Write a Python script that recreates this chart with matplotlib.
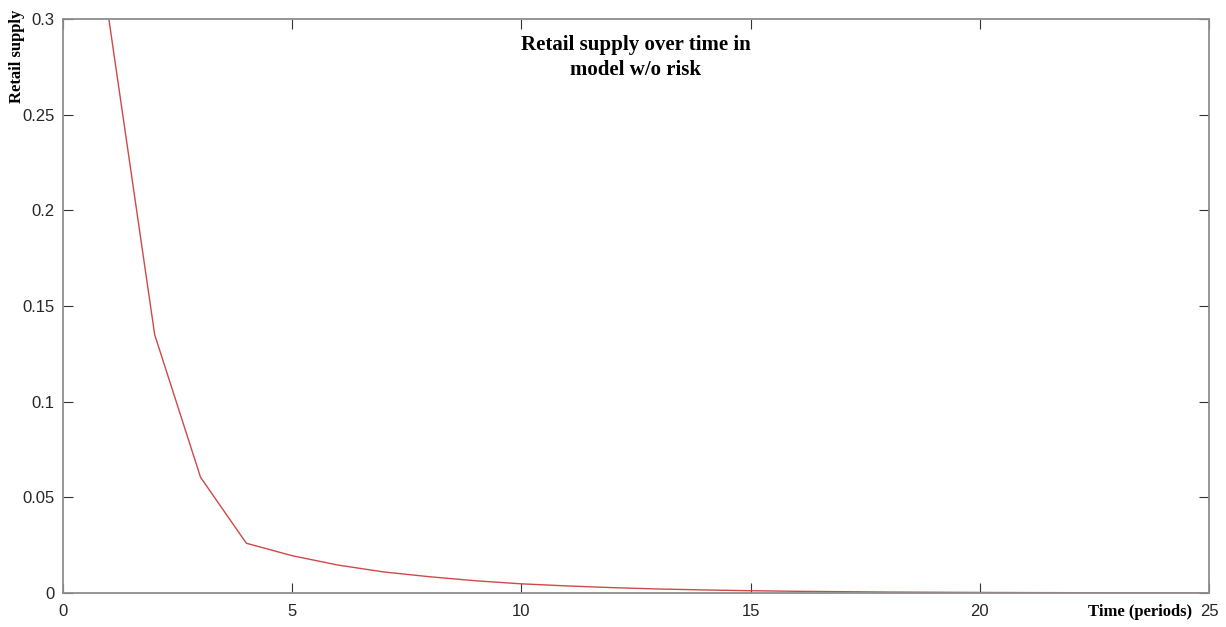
import matplotlib

matplotlib.use("Agg")
import matplotlib.pyplot as plt  # noqa: E402

# Retail supply per period
periods = list(range(1, 26))
supply = [0.300, 0.135, 0.0605, 0.026, 0.0195, 0.0146, 0.0110, 0.0085,
          0.0064, 0.0048, 0.0037, 0.0028, 0.0021, 0.0016, 0.0012, 0.0009,
          0.0007, 0.0005, 0.0004, 0.0003, 0.00022, 0.00017, 0.00013,
          0.0001, 0.00008]

x_ticks = [0, 5, 10, 15, 20, 25]
y_ticks = [0, 0.05, 0.1, 0.15, 0.2, 0.25, 0.3]
y_labels = ["0", "0.05", "0.1", "0.15", "0.2", "0.25", "0.3"]

SPINE = "#8e8e8e"
LINE = "#d04848"
SERIF = ["Liberation Serif", "DejaVu Serif"]

plt.rcParams["font.family"] = ["Liberation Sans", "DejaVu Sans"]

fig = plt.figure(figsize=(12.26, 6.27), dpi=100)
ax = fig.add_axes([0.0514, 0.0542, 0.9347, 0.9155])

ax.plot(periods, supply, color=LINE, linewidth=1.0)

ax.set_xlim(0, 25)
ax.set_ylim(0, 0.3)
ax.set_xticks(x_ticks)
ax.set_yticks(y_ticks)
ax.set_yticklabels(y_labels)
ax.tick_params(direction="in", length=7, width=0.8, color="#333333",
               labelsize=12, labelcolor="#262626", top=True, right=True)
ax.tick_params(axis="x", pad=8)
ax.tick_params(axis="y", pad=6)
for sp in ax.spines.values():
    sp.set_color(SPINE)
    sp.set_linewidth(1.3)

ax.text(0.5, 0.972, "Retail supply over time in\nmodel w/o risk",
        transform=ax.transAxes, ha="center", va="top", fontsize=15,
        fontweight="bold", family=SERIF, linespacing=1.3)

fig.text(0.014, 0.985, "Retail supply", rotation=90, ha="center", va="top",
         fontsize=12, fontweight="bold", family=SERIF)
fig.text(0.972, 0.024, "Time (periods)", ha="right", va="center",
         fontsize=12, fontweight="bold", family=SERIF)

fig.savefig("out.png", dpi=100)
